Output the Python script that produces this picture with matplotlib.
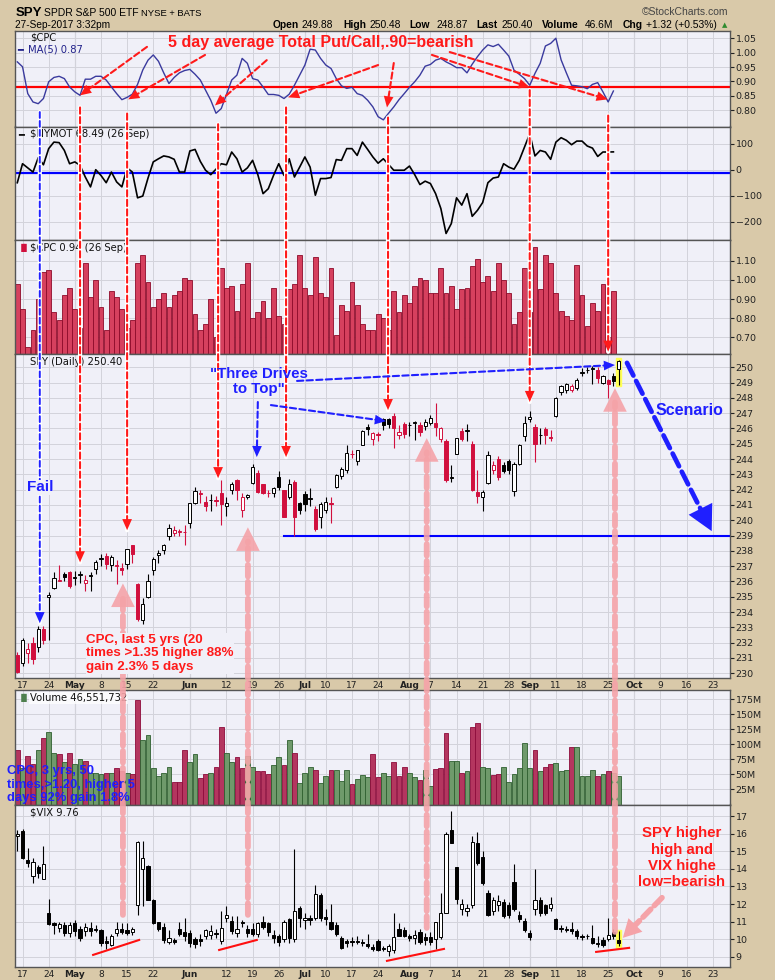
import numpy as np
import pandas as pd
import matplotlib
matplotlib.use('Agg')
import matplotlib.pyplot as plt
from matplotlib.patches import ConnectionPatch, Rectangle

# ---- data (index 0 = 13-Apr-2017) ----
spy_open = [231.2, 230.7, 231.3, 232.0, 231.7, 232.9, 235.0, 235.6, 236.0, 236.5,
            236.6, 236.2, 236.4, 235.9, 236.35, 236.8, 237.5, 237.65, 237.1, 237.0,
            236.9, 237.15, 238.35, 235.85, 233.5, 235.0, 236.75, 237.75, 238.05, 238.95,
            239.15, 239.2, 239.2, 239.8, 241.15, 241.7, 241.2, 241.3, 241.35, 241.75,
            240.9, 241.95, 242.65, 240.65, 241.55, 242.45, 243.1, 242.35, 241.8, 241.8,
            242.85, 241.95, 241.5, 242.5, 241.1, 241.7, 241.4, 240.75, 240.2, 240.65,
            241.1, 242.2, 242.9, 243.3, 244.35, 243.9, 244.9, 246.1, 245.3, 245.65,
            246.6, 246.6, 246.8, 245.55, 246.3, 246.2, 246.35, 246.25, 246.15, 246.35,
            246.35, 245.3, 245.2, 242.75, 244.35, 245.85, 245.85, 245.0, 241.85, 241.55,
            242.45, 243.3, 244.0, 243.6, 243.9, 241.9, 243.7, 245.5, 246.65, 246.1,
            245.55, 245.95, 245.45, 246.8, 248.4, 248.5, 248.5, 248.65, 249.65, 249.8,
            249.9, 249.85, 249.0, 249.15, 249.4, 249.88]
spy_high = [231.4, 232.3, 232.0, 232.4, 233.1, 233.1, 235.3, 236.6, 237.1, 236.6,
            236.7, 236.7, 236.7, 236.4, 236.6, 237.4, 237.8, 237.85, 237.7, 237.4,
            237.2, 238.15, 238.4, 235.9, 234.9, 236.5, 237.6, 238.05, 238.45, 239.75,
            239.6, 239.4, 239.7, 241.1, 242.2, 242.0, 241.6, 241.7, 241.6, 242.6,
            241.5, 242.5, 242.7, 241.8, 241.7, 243.7, 243.3, 242.4, 242.0, 242.2,
            243.2, 242.0, 242.7, 242.6, 241.2, 241.9, 242.1, 240.9, 241.2, 241.5,
            241.5, 243.0, 243.5, 244.9, 244.6, 244.6, 245.9, 246.3, 245.8, 245.8,
            246.7, 246.7, 247.0, 246.2, 246.4, 246.4, 246.5, 246.4, 246.6, 246.85,
            247.65, 246.1, 245.3, 243.6, 245.4, 246.0, 246.3, 245.2, 243.3, 242.0,
            244.5, 243.9, 244.2, 243.8, 244.0, 243.8, 245.0, 246.8, 247.15, 246.3,
            246.0, 246.1, 245.9, 248.05, 248.85, 249.0, 248.9, 249.3, 249.95, 250.0,
            250.1, 250.0, 249.5, 249.25, 249.6, 250.48]
spy_low = [230.0, 230.5, 230.7, 230.6, 231.4, 231.9, 232.2, 235.5, 236.0, 236.0,
           235.6, 235.8, 235.9, 235.4, 235.4, 236.5, 237.0, 236.8, 236.7, 235.85,
           236.4, 236.8, 237.2, 233.4, 233.2, 234.9, 236.4, 237.2, 237.8, 238.7,
           239.0, 239.0, 238.4, 239.5, 241.05, 241.1, 240.6, 240.6, 240.9, 239.7,
           240.3, 241.7, 241.3, 240.2, 241.4, 242.4, 241.8, 241.7, 241.5, 241.5,
           242.0, 240.2, 241.4, 239.0, 240.4, 240.6, 240.9, 239.3, 239.5, 240.5,
           239.8, 242.1, 242.7, 243.1, 244.1, 243.6, 244.9, 245.6, 244.9, 245.2,
           245.9, 246.0, 244.75, 245.3, 245.4, 245.5, 245.25, 245.5, 245.9, 246.2,
           245.5, 245.1, 242.5, 242.5, 244.3, 245.2, 245.2, 241.9, 241.1, 240.6,
           242.4, 243.0, 242.6, 243.1, 243.0, 241.6, 243.6, 245.2, 246.45, 243.8,
           245.0, 245.0, 245.15, 246.75, 248.2, 248.3, 248.4, 248.5, 249.4, 249.65,
           248.9, 249.0, 248.9, 248.0, 248.75, 248.87]
spy_close = [230.1, 232.2, 231.6, 230.9, 232.9, 232.2, 235.1, 236.2, 236.1, 236.3,
             235.7, 236.3, 236.5, 236.1, 236.45, 237.3, 237.55, 237.15, 237.6, 237.05,
             236.75, 238.1, 237.8, 233.55, 234.55, 236.05, 237.45, 237.85, 238.35, 239.5,
             239.35, 239.3, 239.25, 241.1, 241.9, 241.75, 240.9, 241.35, 241.25, 241.05,
             241.1, 242.35, 241.95, 241.5, 241.65, 243.5, 241.85, 241.8, 241.75, 242.1,
             242.2, 240.2, 242.4, 240.2, 240.65, 241.05, 241.45, 239.45, 241.05, 241.2,
             241.05, 242.95, 243.35, 244.4, 244.3, 244.6, 245.85, 245.95, 245.7, 245.6,
             246.25, 246.3, 246.05, 245.8, 245.65, 246.25, 246.4, 245.8, 246.4, 246.7,
             246.1, 246.0, 242.6, 242.85, 245.35, 245.3, 245.9, 241.95, 241.6, 241.85,
             244.25, 243.6, 242.85, 243.25, 243.3, 243.7, 244.95, 246.35, 246.75, 245.0,
             245.6, 245.55, 245.4, 248.0, 248.8, 248.9, 248.8, 249.15, 249.7, 249.85,
             249.95, 249.3, 249.4, 248.9, 249.08, 250.40]
spy_prev_close = 231.5

vix_open = [15.9, 16.15, 14.5, 13.6, 14.1, 13.4, 11.5, 10.9, 10.65, 10.8,
            10.35, 10.9, 10.55, 10.45, 10.65, 10.55, 10.5, 9.9, 9.65, 10.35,
            10.6, 10.5, 10.4, 11.95, 14.0, 14.15, 12.25, 10.95, 10.7, 9.85,
            9.95, 10.6, 10.4, 10.35, 10.0, 10.0, 10.2, 10.25, 10.35, 9.9,
            11.2, 11.05, 10.35, 11.0, 10.6, 10.55, 10.3, 11.0, 10.9, 10.25,
            10.15, 10.0, 11.15, 10.0, 11.75, 11.1, 11.2, 11.2, 12.5, 11.25,
            10.95, 10.8, 10.05, 9.9, 9.9, 9.9, 9.85, 9.7, 9.55, 9.9,
            9.5, 9.3, 9.4, 10.55, 10.5, 10.15, 10.05, 10.4, 10.1, 10.1,
            10.0, 10.1, 11.5, 16.2, 14.1, 11.7, 11.6, 11.95, 15.45, 14.65,
            12.6, 11.6, 11.95, 12.1, 11.95, 13.25, 11.35, 11.05, 10.35, 11.7,
            12.25, 11.95, 11.8, 11.15, 10.65, 10.6, 10.6, 10.45, 10.2, 10.2,
            10.05, 9.8, 9.95, 10.0, 10.4, 9.95]
vix_high = [16.2, 16.3, 15.2, 14.6, 14.25, 15.3, 12.3, 11.0, 10.95, 11.0,
            10.95, 11.1, 10.75, 10.9, 11.0, 10.8, 10.6, 10.2, 10.3, 11.0,
            10.9, 10.9, 10.7, 15.6, 15.6, 14.2, 12.3, 11.0, 10.9, 10.5,
            10.05, 11.0, 11.2, 10.5, 10.1, 10.3, 10.6, 10.8, 10.55, 11.6,
            11.9, 11.3, 11.3, 11.1, 10.8, 10.9, 11.0, 11.3, 11.0, 10.5,
            10.3, 11.1, 11.2, 15.15, 11.9, 11.5, 11.35, 13.1, 12.6, 11.7,
            12.0, 11.0, 10.2, 10.0, 10.1, 10.2, 10.0, 10.3, 9.7, 10.0,
            9.6, 9.7, 11.5, 10.9, 10.7, 10.3, 10.5, 10.55, 10.35, 10.4,
            11.0, 12.6, 16.1, 17.3, 14.1, 12.3, 12.0, 15.9, 16.1, 15.0,
            12.8, 12.4, 12.5, 12.3, 12.1, 14.3, 11.6, 11.2, 10.5, 14.0,
            12.4, 12.0, 12.4, 11.2, 10.8, 10.75, 10.95, 10.6, 10.3, 10.3,
            10.8, 10.2, 10.1, 11.2, 10.6, 10.45]
vix_low = [15.0, 14.55, 14.1, 13.2, 13.5, 13.4, 10.8, 10.3, 10.4, 10.2,
           10.1, 10.2, 9.9, 10.2, 10.2, 10.4, 9.6, 9.45, 9.6, 10.2,
           10.3, 10.25, 10.25, 11.4, 11.9, 12.2, 10.85, 10.45, 9.8, 9.7,
           9.7, 10.2, 9.9, 9.55, 9.5, 9.6, 10.0, 10.0, 10.05, 9.7,
           10.95, 10.3, 10.1, 10.7, 10.1, 10.2, 10.1, 10.55, 10.2, 9.8,
           9.6, 9.85, 9.8, 9.85, 10.7, 10.6, 10.8, 11.1, 11.05, 10.8,
           10.5, 10.2, 9.45, 9.55, 9.6, 9.7, 9.6, 9.5, 9.3, 9.3,
           9.3, 9.05, 9.2, 10.15, 10.1, 9.9, 9.7, 9.7, 9.65, 9.65,
           9.45, 10.0, 11.5, 15.5, 12.0, 11.4, 11.3, 11.8, 14.2, 13.1,
           11.3, 11.4, 11.6, 11.2, 11.2, 11.6, 10.95, 10.4, 9.95, 11.4,
           11.3, 11.35, 11.6, 10.55, 10.4, 10.4, 10.3, 10.0, 9.95, 10.0,
           9.7, 9.55, 9.55, 9.9, 10.0, 9.6]
vix_close = [16.0, 14.6, 14.35, 14.4, 13.75, 14.3, 10.85, 10.8, 10.85, 10.35,
             10.8, 10.45, 10.05, 10.7, 10.45, 10.5, 9.75, 9.8, 10.2, 10.6,
             10.4, 10.35, 10.6, 15.55, 14.6, 12.25, 10.9, 10.6, 9.95, 10.05,
             9.85, 10.3, 10.15, 9.75, 9.7, 9.9, 10.5, 10.45, 10.3, 10.65,
             11.4, 10.45, 10.6, 10.9, 10.35, 10.3, 10.9, 10.7, 10.4, 10.05,
             9.85, 11.0, 10.05, 11.6, 11.2, 11.2, 11.1, 12.55, 11.2, 11.15,
             10.6, 10.3, 9.5, 9.8, 9.85, 9.85, 9.75, 9.6, 9.45, 9.4,
             9.45, 9.6, 10.1, 10.2, 10.2, 10.05, 10.25, 9.85, 9.95, 9.85,
             10.95, 11.5, 16.0, 15.5, 12.3, 12.0, 11.75, 15.55, 14.35, 13.2,
             11.4, 12.2, 12.15, 11.3, 11.35, 11.7, 11.15, 10.5, 10.1, 12.2,
             11.5, 11.5, 12.0, 10.6, 10.55, 10.5, 10.45, 10.15, 10.1, 10.15,
             9.8, 9.7, 9.65, 10.25, 10.15, 9.76]

volume_m = [91, 60, 80, 68, 91, 110, 120, 85, 83, 70,
            85, 67, 75, 72, 52, 52, 50, 52, 52, 60,
            55, 52, 50, 174, 107, 115, 61, 48, 52, 62,
            37, 37, 90, 70, 84, 44, 50, 52, 62, 128,
            86, 70, 79, 61, 81, 62, 55, 55, 50, 66,
            79, 66, 107, 85, 36, 52, 62, 57, 36, 48,
            57, 57, 39, 57, 34, 42, 49, 45, 84, 45,
            52, 47, 70, 48, 62, 52, 45, 40, 57, 31,
            59, 61, 119, 73, 72, 52, 55, 129, 136, 62,
            60, 49, 50, 62, 38, 50, 61, 102, 60, 90,
            56, 62, 68, 69, 55, 58, 95, 95, 47, 47,
            58, 47, 50, 55, 52, 46.55]

# daily total put/call, to 26-Sep
cpc = [0.98, 0.85, 0.65, 0.74, 0.90, 1.04, 1.05, 0.83, 0.79, 0.92,
       0.96, 0.85, 0.75, 1.09, 0.91, 1.00, 0.86, 0.74, 0.94, 0.91,
       0.85, 0.75, 0.79, 1.09, 1.13, 0.99, 0.86, 0.90, 0.93, 0.86,
       0.92, 0.94, 1.01, 1.00, 0.82, 0.74, 0.77, 0.90, 0.70, 1.06,
       0.96, 0.97, 0.84, 0.98, 1.09, 0.80, 0.83, 0.89, 0.80, 0.96,
       0.81, 0.77, 0.95, 0.98, 1.13, 0.96, 0.92, 1.12, 0.93, 0.91,
       1.06, 0.71, 0.87, 0.84, 0.99, 0.87, 0.77, 0.74, 0.74, 0.82,
       0.80, 0.74, 0.94, 0.83, 0.92, 0.88, 0.97, 1.01, 1.00, 0.93,
       0.93, 1.06, 0.93, 0.97, 0.85, 0.95, 0.96, 1.07, 1.11, 0.99,
       1.02, 0.94, 1.09, 1.00, 0.93, 0.77, 0.83, 1.06, 0.83, 1.17,
       0.95, 1.13, 1.09, 0.93, 0.84, 0.81, 0.79, 1.08, 0.92, 0.76,
       0.88, 0.84, 0.98, 0.70, 0.94]
cpc_ma5 = [0.968, 0.951, 0.858, 0.829, 0.823, 0.841, 0.899, 0.914, 0.918, 0.910,
           0.881, 0.864, 0.852, 0.908, 0.908, 0.918, 0.918, 0.905, 0.881, 0.858,
           0.837, 0.845, 0.856, 0.890, 0.940, 0.974, 0.992, 0.970, 0.930, 0.893,
           0.914, 0.930, 0.938, 0.942, 0.925, 0.905, 0.870, 0.835, 0.790, 0.806,
           0.855, 0.905, 0.922, 0.980, 0.963, 0.910, 0.905, 0.881, 0.855, 0.855,
           0.852, 0.841, 0.856, 0.887, 0.922, 0.957, 1.012, 1.009, 0.980, 0.957,
           0.945, 0.910, 0.885, 0.876, 0.880, 0.858, 0.852, 0.835, 0.812, 0.778,
           0.767, 0.790, 0.812, 0.837, 0.858, 0.880, 0.899, 0.922, 0.953, 0.959,
           0.974, 0.980, 0.968, 0.959, 0.948, 0.948, 0.930, 0.960, 0.986, 1.009,
           1.027, 1.021, 1.029, 1.009, 0.988, 0.939, 0.925, 0.910, 0.887, 0.928,
           0.963, 1.023, 1.032, 1.050, 0.975, 0.930, 0.887, 0.885, 0.882, 0.875,
           0.890, 0.896, 0.864, 0.829, 0.867]
nymot = [-50, 23, 7, -9, 46, 19, 81, 106, 104, 74,
         23, 30, 17, -28, -66, 0, -22, -50, -9, -47,
         -66, 7, -9, -108, -101, -32, 30, 42, 53, 49,
         40, -9, -9, 72, 78, 32, -2, -19, 2, 23,
         19, 68, 42, -9, 7, 36, -19, -92, -73, -22,
         23, -22, 42, -28, 10, 49, 10, -98, -34, -34,
         -30, 39, 36, 81, 81, 55, 106, 78, 49, 25,
         42, 20, -2, -2, -2, 14, -19, -57, -44, -53,
         -92, -149, -245, -207, -108, -136, -92, -179, -156, -126,
         -50, -32, -28, 23, 10, 2, 36, 87, 138, 53,
         74, 68, 40, 106, 123, 113, 96, 110, 110, 91,
         83, 51, 68, 68, 68.49]

cpc_bearish_level = 0.88
nymot_line = -13
spy_support = 239

holidays = ['2017-04-14', '2017-05-29', '2017-07-04', '2017-09-04']
tick_dates = ['2017-04-17', '2017-04-24', '2017-05-01', '2017-05-08', '2017-05-15',
              '2017-05-22', '2017-06-01', '2017-06-12', '2017-06-19', '2017-06-26',
              '2017-07-03', '2017-07-10', '2017-07-17', '2017-07-24', '2017-08-01',
              '2017-08-07', '2017-08-14', '2017-08-21', '2017-08-28', '2017-09-01',
              '2017-09-11', '2017-09-18', '2017-09-25', '2017-10-02', '2017-10-09',
              '2017-10-16', '2017-10-23']
month_dates = ['2017-05-01', '2017-06-01', '2017-07-03', '2017-08-01', '2017-09-01', '2017-10-02']

days = pd.bdate_range('2017-04-13', '2017-10-31')
days = days[~days.isin(pd.to_datetime(holidays))]
tick_pos = [days.get_loc(pd.Timestamp(d)) for d in tick_dates]
tick_lab = [pd.Timestamp(d).strftime('%b') if d in month_dates else str(pd.Timestamp(d).day)
            for d in tick_dates]

BG = '#D9C9A9'
PANEL = '#F0F0F8'
GRID = '#D3D3DB'
RED = '#FF1A1A'
BLUE = '#1F1FFF'
PINK = '#F5A3A8'
CRED = '#D1103E'
W, H = 775, 980
ANN = 'Liberation Sans'

plt.rcParams['font.family'] = 'DejaVu Sans'
fig = plt.figure(figsize=(7.75, 9.8), dpi=100, facecolor=BG)


def fx(x):
    return x / W


def fy(y):
    return 1 - y / H


def pane(top, bottom, xlabels=False):
    ax = fig.add_axes([15 / W, 1 - bottom / H, 715 / W, (bottom - top) / H])
    ax.set_facecolor(PANEL)
    ax.set_xlim(-0.44, 136.3)
    ax.set_xticks(tick_pos)
    ax.grid(True, color=GRID, lw=0.7, zorder=0)
    ax.set_axisbelow(True)
    for d in month_dates:
        ax.axvline(days.get_loc(pd.Timestamp(d)), color='#B8B8C0', lw=0.8, zorder=0.5)
    ax.yaxis.tick_right()
    ax.tick_params(axis='y', labelsize=6.8, length=3, direction='out', pad=1, colors='#222')
    if xlabels:
        ax.set_xticklabels(tick_lab)
        ax.tick_params(axis='x', labelsize=6.5, length=0, pad=2.5, colors='#222')
        for t in ax.get_xticklabels():
            if not t.get_text().isdigit():
                t.set_fontweight('bold')
    else:
        ax.tick_params(axis='x', labelbottom=False, length=0)
    for s in ax.spines.values():
        s.set_color('#555555')
        s.set_linewidth(1.0)
    return ax


def candles(ax, o, h, l, c, prev, colored, min_body):
    o, h, l, c = map(np.asarray, (o, h, l, c))
    x = np.arange(len(c))
    prevc = np.r_[prev, c[:-1]]
    if colored:
        edge = np.where(c >= prevc, 'black', CRED)
    else:
        edge = np.array(['black'] * len(c))
    face = np.where(c > o, 'white', edge)
    ax.vlines(x, l, h, colors=edge, lw=0.8, zorder=3)
    ax.bar(x, np.maximum(np.abs(c - o), min_body), 0.62, bottom=np.minimum(o, c),
           color=face, edgecolor=edge, lw=0.7, zorder=4)


def arrow(axA, a, axB, b, color, lw, dash, head=None, ms=10, halo=False, z=8, alpha=1.0):
    if halo:
        fig.add_artist(ConnectionPatch(xyA=a, xyB=b, coordsA='data', coordsB='data',
                                       axesA=axA, axesB=axB, color='white', lw=lw + 1.6, zorder=z))
    shrink = head[0] * ms * 0.6 if head else 0
    fig.add_artist(ConnectionPatch(xyA=a, xyB=b, coordsA='data', coordsB='data',
                                   axesA=axA, axesB=axB, color=color, lw=lw,
                                   linestyle=(0, dash), shrinkB=shrink, zorder=z + 0.1, alpha=alpha))
    if head:
        fig.add_artist(ConnectionPatch(xyA=a, xyB=b, coordsA='data', coordsB='data',
                                       axesA=axA, axesB=axB,
                                       arrowstyle='-|>,head_length=%s,head_width=%s' % head,
                                       color=color, lw=0, mutation_scale=ms, zorder=z + 0.2,
                                       alpha=alpha))


def note(ax, x, y, s, color, size, boxed=True, **kw):
    # annotation text placed in data coordinates, drawn above the figure-level arrows
    box = dict(fc=PANEL, ec='none', pad=0.3) if boxed else None
    fig.text(x, y, s, transform=ax.transData, color=color, fontsize=size, fontweight='bold',
             family=ANN, zorder=12, bbox=box, **kw)


ax1 = pane(31, 126.5)
ax2 = pane(126.5, 240)
ax3 = pane(240, 354)
ax4 = pane(354, 677.5, xlabels=True)
ax5 = pane(690, 804.5)
ax6 = pane(804.5, 967, xlabels=True)

# panel 1: 5 day average CPC
x_c = np.arange(len(cpc_ma5))
ax1.axhline(cpc_bearish_level, color='#FF0000', lw=1.6, zorder=2)
ax1.plot(x_c, cpc_ma5, color='#3A3A9E', lw=1.0, zorder=3)
ax1.set_ylim(0.744, 1.075)
ax1.set_yticks([0.80, 0.85, 0.90, 0.95, 1.00, 1.05])
ax1.set_yticklabels(['%.2f' % v for v in [0.80, 0.85, 0.90, 0.95, 1.00, 1.05]])

# panel 2: NYMOT
ax2.axhline(nymot_line, color='#0000FF', lw=1.6, zorder=2)
ax2.plot(np.arange(len(nymot)), nymot, color='black', lw=1.2, zorder=3)
ax2.set_ylim(-270, 166)
ax2.set_yticks([-200, -100, 0, 100])

# panel 3: CPC bars
ax3.bar(np.arange(len(cpc)), cpc, 0.92, color='#D6405E', edgecolor='#8E0A2A', lw=0.6, zorder=2)
ax3.set_ylim(0.613, 1.208)
ax3.set_yticks([0.70, 0.80, 0.90, 1.00, 1.10])
ax3.set_yticklabels(['%.2f' % v for v in [0.70, 0.80, 0.90, 1.00, 1.10]])

# panel 4: SPY candles
last = len(spy_close) - 1
ax4.add_patch(Rectangle((last - 0.5, spy_low[-1] - 0.1), 1.0, spy_high[-1] - spy_low[-1] + 0.2,
                        color='#FFFF55', zorder=2))
candles(ax4, spy_open, spy_high, spy_low, spy_close, spy_prev_close, True, 0.03)
ax4.plot([51, 136.3], [spy_support, spy_support], color='#0000FF', lw=1.5, zorder=2.5)
ax4.set_ylim(229.72, 250.87)
ax4.set_yticks(range(230, 251))

# panel 5: volume
closes = np.asarray(spy_close)
up = closes >= np.r_[spy_prev_close, closes[:-1]]
ax5.bar(np.arange(len(volume_m)), volume_m, 0.92,
        color=np.where(up, '#6F9A6B', '#B4365F'), edgecolor=np.where(up, '#2F5F2F', '#8E0B3B'),
        lw=0.6, zorder=2)
ax5.set_ylim(0, 190)
ax5.set_yticks([25, 50, 75, 100, 125, 150, 175])
ax5.set_yticklabels(['%dM' % v for v in [25, 50, 75, 100, 125, 150, 175]])

# panel 6: VIX
ax6.add_patch(Rectangle((last - 0.5, vix_low[-1] - 0.08), 1.0, vix_high[-1] - vix_low[-1] + 0.16,
                        color='#FFFF55', zorder=2))
candles(ax6, vix_open, vix_high, vix_low, vix_close, vix_close[0], False, 0.02)
ax6.set_ylim(8.41, 17.67)
ax6.set_yticks(range(9, 18))

# ---- header ----
fig.text(fx(16), fy(13), 'SPY', fontsize=9.5, fontweight='bold', family=ANN, va='center')
fig.text(fx(44), fy(13), 'SPDR S&P 500 ETF', fontsize=7.5, family=ANN, va='center')
fig.text(fx(141), fy(13), 'NYSE + BATS', fontsize=6.8, family=ANN, va='center')
fig.text(fx(15), fy(25), '27-Sep-2017 3:32pm', fontsize=7.3, family=ANN, va='center')
fig.text(fx(642), fy(12), '\u00a9StockCharts.com', fontsize=7.5, family=ANN, va='center', color='#444')
for xp, s, b in [(273, 'Open', True), (302, '249.88', False), (343, 'High', True),
                 (369, '250.48', False), (409, 'Low', True), (436, '248.87', False),
                 (476, 'Last', True), (502, '250.40', False), (542, 'Volume', True),
                 (585, '46.6M', False), (623, 'Chg', True), (646, '+1.32 (+0.53%)', False)]:
    fig.text(fx(xp), fy(25), s, fontsize=7.4, family=ANN, va='center',
             fontweight='bold' if b else 'normal')
fig.text(fx(722), fy(25), '\u25b2', fontsize=5, color='#2E8B2E', va='center')

# ---- panel labels ----
lab = dict(fontsize=7.2, va='center', color='#111')
fig.text(fx(30), fy(37), r'\$CPC', **lab)
fig.text(fx(17), fy(49), '\u2501', fontsize=7, va='center', color='#22228B')
fig.text(fx(28), fy(49), 'MA(5) 0.87', fontsize=7.2, va='center', color='#22228B')
fig.text(fx(18), fy(134), '\u2501', fontsize=7, va='center', color='#111')
fig.text(fx(30), fy(134), r'\$NYMOT 68.49 (26 Sep)', **lab)
fig.text(fx(18), fy(248), '\u2590\u258c', fontsize=6, va='center', color=CRED)
fig.text(fx(30), fy(248), r'\$CPC 0.94 (26 Sep)', **lab)
fig.text(fx(30), fy(362), 'SPY (Daily) 250.40', **lab)
fig.text(fx(18), fy(698), '\u2590\u258c', fontsize=6, va='center', color='#4E7F4E')
fig.text(fx(30), fy(698), 'Volume 46,551,732', bbox=dict(fc='white', ec='none', alpha=0.75, pad=0.5), **lab)
fig.text(fx(30), fy(812), r'\$VIX 9.76', **lab)

# ---- annotations ----
note(ax1, 28.8, 1.034, '5 day average Total Put/Call,.90=bearish', RED, 11.5, boxed=False, va='center')
for a, b in [((24.8, 1.02), (12.0, 0.852)), ((35.9, 0.992), (21.2, 0.838)),
             ((47.7, 0.974), (37.8, 0.817)), ((69.0, 0.957), (51.8, 0.845)),
             ((72.0, 0.964), (70.7, 0.81)), ((79.3, 0.992), (98.0, 0.88)),
             ((82.7, 1.002), (112.9, 0.838))]:
    arrow(ax1, a, ax1, b, RED, 1.5, (3, 1.6), head=(0.8, 0.35), ms=10)

for xi, top, bot, axb in [(12, 0.81, 237.25, ax4), (21, 0.789, 239.35, ax4),
                          (38.4, 0.752, 242.75, ax4), (51.4, 0.81, 244.13, ax4),
                          (70.9, 0.775, 247.2, ax4), (98, 0.87, 247.73, ax4),
                          (113, 0.782, 0.625, ax3)]:
    arrow(ax1, (xi, top), axb, (xi, bot), RED, 1.5, (3, 1.6), head=(0.8, 0.35), ms=10, halo=True)

arrow(ax1, (4.3, 0.794), ax4, (4.3, 233.27), BLUE, 1.4, (3, 1.6), head=(0.8, 0.35), ms=10, halo=True)
note(ax4, 4.3, 242.15, 'Fail', BLUE, 11, ha='center', va='center')

note(ax4, 46.2, 249.07, '"Three Drives\nto Top"', BLUE, 10.8, boxed=False,
     ha='center', va='center', linespacing=1.15)
arrow(ax4, (53.5, 249.11), ax4, (114.3, 250.15), BLUE, 1.5, (3, 1.6), head=(0.8, 0.35), ms=10)
arrow(ax4, (48.5, 247.53), ax4, (70.5, 246.48), BLUE, 1.5, (3, 1.6), head=(0.8, 0.35), ms=10)
arrow(ax4, (46.0, 247.73), ax4, (45.8, 244.13), BLUE, 1.5, (3, 1.6), head=(0.8, 0.35), ms=10)

arrow(ax4, (116.6, 250.29), ax4, (132.8, 239.29), BLUE, 3.4, (3.0, 1.3), head=(1.8, 0.95), ms=10)
note(ax4, 128.6, 247.15, 'Scenario', BLUE, 11.5, boxed=False, ha='center', va='center')

for xi, top, bot in [(20.2, 235.87, 11.38), (44.1, 239.54, 11.38),
                     (78.3, 245.37, 10.64), (114.3, 248.64, 10.41)]:
    arrow(ax6, (xi, bot), ax4, (xi, top), PINK, 4.2, (2.0, 0.9), head=(1.7, 0.85), ms=10,
          z=7, alpha=0.9)
arrow(ax6, (123.3, 12.36), ax6, (115.8, 10.07), PINK, 4.0, (2.0, 0.9), head=(1.3, 0.7), ms=10, z=7)

note(ax4, 13.15, 231.29, 'CPC, last 5 yrs (20\ntimes >1.35 higher 88%\ngain 2.3% 5 days',
     RED, 9.6, va='center', linespacing=1.2)
note(ax5, -1.97, 33, 'CPC, 3 yrs, 50\ntimes,>1.20, higher 5\ndays 92% gain 1.8%', BLUE, 9.4,
     boxed=False, va='center', linespacing=1.15)
note(ax6, 127.1, 14.64, 'SPY higher\nhigh and\nVIX highe\nlow=bearish', RED, 10.8, boxed=False,
     ha='center', va='center', linespacing=1.2)

for a, b in [((14.5, 9.10), (23.3, 9.95)), ((38.6, 9.38), (45.8, 9.95)),
             ((70.7, 8.76), (81.6, 9.44)), ((110.7, 9.27), (117.0, 9.5))]:
    ax6.plot([a[0], b[0]], [a[1], b[1]], color='#FF1010', lw=1.5, zorder=6)

fig.savefig('out.png', dpi=100, facecolor=BG)
